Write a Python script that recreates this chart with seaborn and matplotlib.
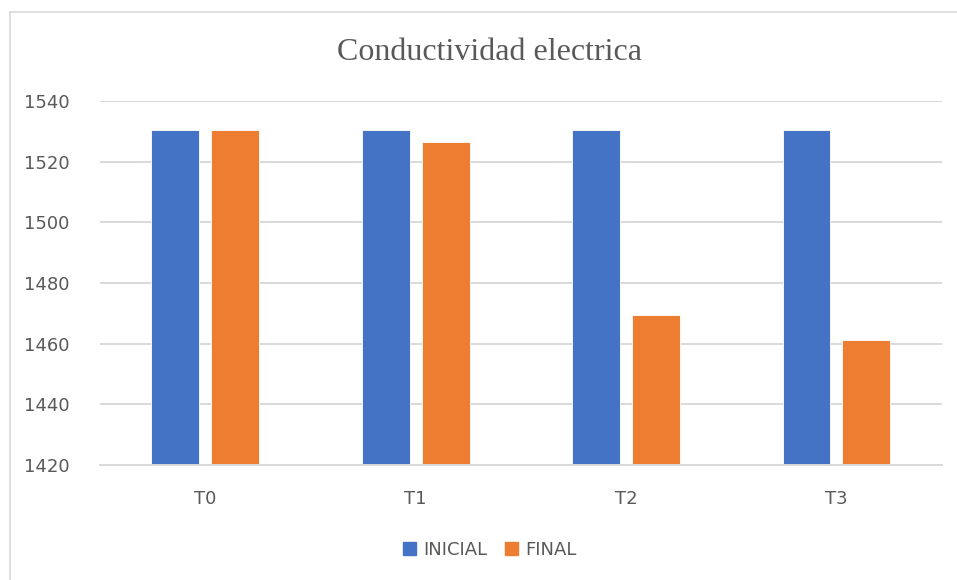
import matplotlib
matplotlib.use("Agg")
import matplotlib.pyplot as plt
import matplotlib.patches as mpatches
import seaborn as sns
import pandas as pd

categories = ["T0", "T1", "T2", "T3"]
inicial = [1530.5, 1530.5, 1530.5, 1530.5]
final = [1530.5, 1526.4, 1469.4, 1461.3]
series_names = ["INICIAL", "FINAL"]
colors = ["#4472C4", "#ED7D31"]

df = pd.DataFrame({
    "Tratamiento": categories * 2,
    "Serie": [series_names[0]] * 4 + [series_names[1]] * 4,
    "Valor": inicial + final,
})

sns.set_style("white")
plt.rcParams["font.family"] = ["Liberation Sans Narrow", "DejaVu Sans"]

fig = plt.figure(figsize=(9.57, 5.8), dpi=100)
ax = fig.add_axes([0.1045, 0.198, 0.8795, 0.628])

sns.barplot(data=df, x="Tratamiento", y="Valor", hue="Serie",
            palette=colors, saturation=1, width=0.57, gap=0.2, ax=ax,
            edgecolor="#ffffff", linewidth=0.6, legend=False)

ax.set_ylim(1420, 1540)
ax.set_yticks(range(1420, 1541, 20))
ax.set_xlim(-0.5, 3.5)
ax.yaxis.grid(True, color="#D9D9D9", linewidth=1.4)
ax.set_axisbelow(True)
for s in ["top", "right", "left"]:
    ax.spines[s].set_visible(False)
ax.spines["bottom"].set_color("#D9D9D9")
ax.spines["bottom"].set_linewidth(1.4)
ax.set_xlabel("")
ax.set_ylabel("")
ax.tick_params(axis="both", length=0, labelsize=13, labelcolor="#595959")
ax.tick_params(axis="y", pad=22)
ax.tick_params(axis="x", pad=18)

fig.text(0.512, 0.91, "Conductividad electrica", ha="center", va="center",
         fontsize=23, color="#595959", family="Liberation Serif")

handles = [mpatches.Patch(color=c, label=n) for c, n in zip(colors, series_names)]
fig.legend(handles=handles, loc="center", bbox_to_anchor=(0.512, 0.052), ncol=2,
           frameon=False, fontsize=13, handlelength=0.7, handleheight=0.7,
           handletextpad=0.4, columnspacing=1.0, labelcolor="#595959")

# chart border
border = mpatches.Rectangle((10 / 957, -0.01), 1.0, 1 - 12 / 580 + 0.01,
                            transform=fig.transFigure, fill=False,
                            edgecolor="#D9D9D9", linewidth=1.2)
fig.add_artist(border)

fig.savefig("out.png", dpi=100)
